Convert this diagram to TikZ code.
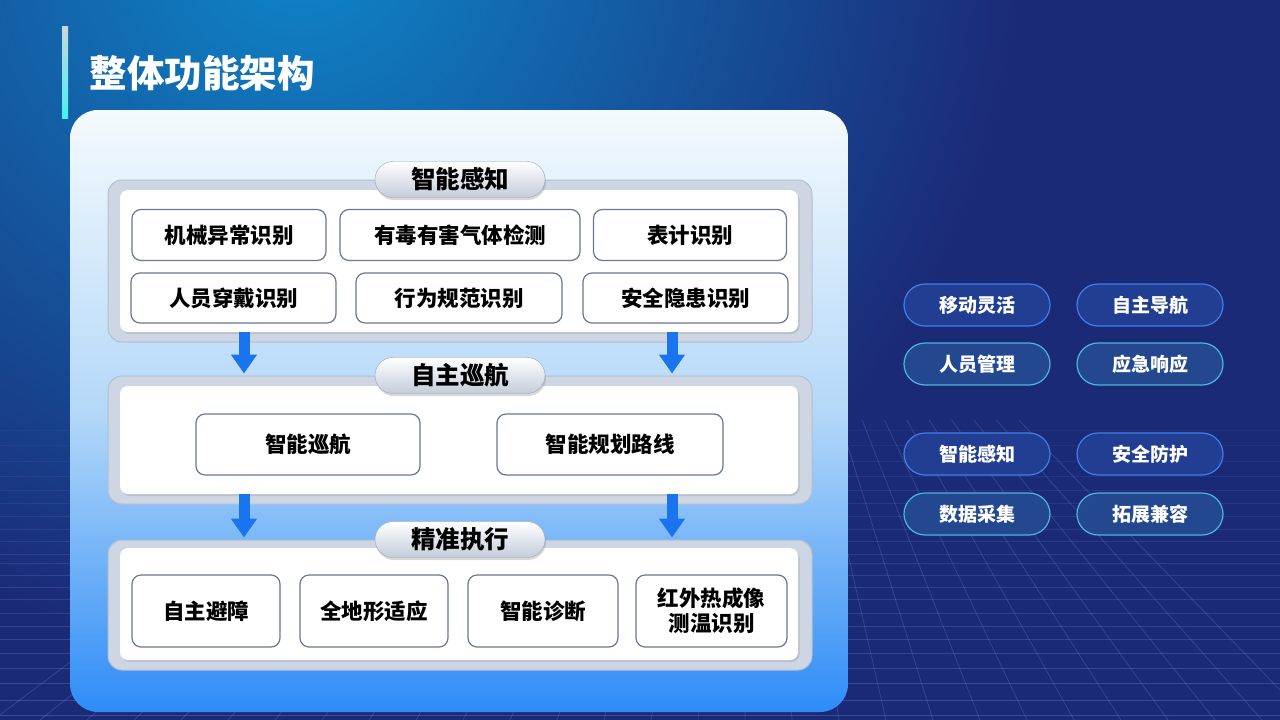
\documentclass[tikz,border=0pt]{standalone}
\usepackage{fontspec}
\setmainfont{Noto Sans CJK SC}
\usetikzlibrary{positioning, arrows.meta, shadows}

\definecolor{bgblue}{HTML}{0E86C9}
\definecolor{bgnavy}{HTML}{1B2A77}
\definecolor{gridline}{HTML}{6F86C8}
\definecolor{bartop}{HTML}{C9D8DA}
\definecolor{barbot}{HTML}{46F0F4}
\definecolor{paneltop}{HTML}{F4FAFD}
\definecolor{panelmid}{HTML}{B4D8F8}
\definecolor{panelbot}{HTML}{2E8CF7}
\definecolor{framegray}{HTML}{CDD6E2}
\definecolor{frameline}{HTML}{B3BFD0}
\definecolor{tabgray}{HTML}{C4CCDA}
\definecolor{tabline}{HTML}{9AA6BA}
\definecolor{itemline}{HTML}{6B7790}
\definecolor{flowblue}{HTML}{1A74EE}
\definecolor{pillfill}{HTML}{213E93}
\definecolor{pillfilltwo}{HTML}{23488F}
\definecolor{pillblue}{HTML}{3F7FE8}
\definecolor{pillcyan}{HTML}{4CB6DC}

\begin{document}
\begin{tikzpicture}[
    x=1pt, y=-1pt,
    frame/.style={draw=frameline, fill=framegray, line width=1pt, rounded corners=14pt, minimum width=704pt, inner sep=0pt},
    sheet/.style={fill=white, rounded corners=8pt, minimum width=678pt, inner sep=0pt, drop shadow={shadow xshift=1.5pt, shadow yshift=-2pt, opacity=0.25}},
    tab/.style={draw=tabline, top color=white, bottom color=tabgray, rounded corners=18pt, minimum width=170pt, minimum height=36pt, inner sep=0pt, font=\fontsize{24.5}{27}\selectfont\bfseries, drop shadow={shadow xshift=1pt, shadow yshift=-2.5pt, opacity=0.3}},
    item/.style={draw=itemline, fill=white, line width=1.2pt, rounded corners=9pt, inner sep=0pt, align=center, font=\fontsize{21.5}{25}\selectfont\bfseries},
    pill/.style={draw=pillblue, fill=pillfill, line width=1.2pt, rounded corners=21pt, minimum width=146pt, minimum height=42pt, inner sep=0pt, text=white, font=\fontsize{19}{22}\selectfont\bfseries},
    pilltwo/.style={pill, draw=pillcyan, fill=pillfilltwo},
    flow/.style={draw=flowblue, line width=11pt, -{Triangle[width=25pt, length=19pt]}, shorten >=2pt}
]

\useasboundingbox (0,0) rectangle (1280,720);
\begin{scope}
  \clip (0,0) rectangle (1280,720);
  \fill[bgnavy] (0,0) rectangle (1280,720);
  \shade[inner color=bgblue, outer color=bgnavy] (300,-60) circle (720);
  \foreach \k in {-20,...,8}
    \draw[gridline, opacity=0.3, line width=0.8pt] ({755+(178+47*\k)*0.476},420) -- ({933+47*\k},720);
  \foreach \h in {430,445,461,476,490,503,516,529,541,554,563,575,587,599,613,626,639,653,668,683,700,715} {
    \pgfmathsetmacro\op{0.08+0.3*(\h-430)/290}
    \draw[gridline, opacity=\op, line width=0.8pt] (0,\h) -- (1280,\h);
  }
\end{scope}

\shade[top color=bartop, bottom color=barbot] (62,26) rectangle (68,118);
\node[anchor=west, text=white, font=\fontsize{37.5}{40}\selectfont\bfseries] (title) at (86,73) {整体功能架构};

\node[top color=paneltop, bottom color=panelbot, middle color=panelmid, rounded corners=28pt, minimum width=778pt, minimum height=602pt] (board) at (459,411) {};

\node[frame, minimum height=162pt] (percO) at (460,261) {};
\node[sheet, minimum height=142pt] (perc) at (459,261) {};
\node[frame, minimum height=128pt] (cruiseO) at (460,440) {};
\node[sheet, minimum height=108pt] (cruise) at (459,440) {};
\node[frame, minimum height=130pt] (execO) at (460,605) {};
\node[sheet, minimum height=112pt] (exec) at (459,604) {};

\node[tab] (percT) at (percO.north) {智能感知};
\node[tab] (cruiseT) at (cruiseO.north) {自主巡航};
\node[tab] (execT) at (execO.north) {精准执行};

\node[item, minimum width=194pt, minimum height=51pt] (mech) at (229,235) {机械异常识别};
\node[item, minimum width=240pt, minimum height=51pt] (gas) at (460,235) {有毒有害气体检测};
\node[item, minimum width=193pt, minimum height=51pt] (meter) at (690,235) {表计识别};
\node[item, minimum width=205pt, minimum height=50pt] (wear) at (233.5,298) {人员穿戴识别};
\node[item, minimum width=206pt, minimum height=50pt] (behave) at (459,298) {行为规范识别};
\node[item, minimum width=205pt, minimum height=50pt] (hazard) at (685.5,298) {安全隐患识别};

\node[item, minimum width=224pt, minimum height=61pt] (patrol) at (308,444.5) {智能巡航};
\node[item, minimum width=226pt, minimum height=61pt] (route) at (610,444.5) {智能规划路线};

\node[item, minimum width=148pt, minimum height=72pt] (avoid) at (206,611) {自主避障};
\node[item, minimum width=148pt, minimum height=72pt] (terrain) at (374,611) {全地形适应};
\node[item, minimum width=150pt, minimum height=72pt] (diag) at (543,611) {智能诊断};
\node[item, minimum width=151pt, minimum height=72pt] (thermal) at (711.5,611) {红外热成像\\测温识别};

\coordinate (ax1) at (244,0);
\coordinate (ax2) at (672,0);
\draw[flow] (perc.south -| ax1) -- (cruiseO.north -| ax1);
\draw[flow] (perc.south -| ax2) -- (cruiseO.north -| ax2);
\draw[flow] (cruise.south -| ax1) -- (execO.north -| ax1);
\draw[flow] (cruise.south -| ax2) -- (execO.north -| ax2);

\node[pill] (mobile) at (977,305) {移动灵活};
\node[pill] (nav) at (1150,305) {自主导航};
\node[pilltwo] (staff) at (977,364) {人员管理};
\node[pilltwo] (emerg) at (1150,364) {应急响应};
\node[pill] (sense) at (977,454) {智能感知};
\node[pill] (safe) at (1150,454) {安全防护};
\node[pilltwo] (data) at (977,514) {数据采集};
\node[pilltwo] (ext) at (1150,514) {拓展兼容};

\end{tikzpicture}
\end{document}
